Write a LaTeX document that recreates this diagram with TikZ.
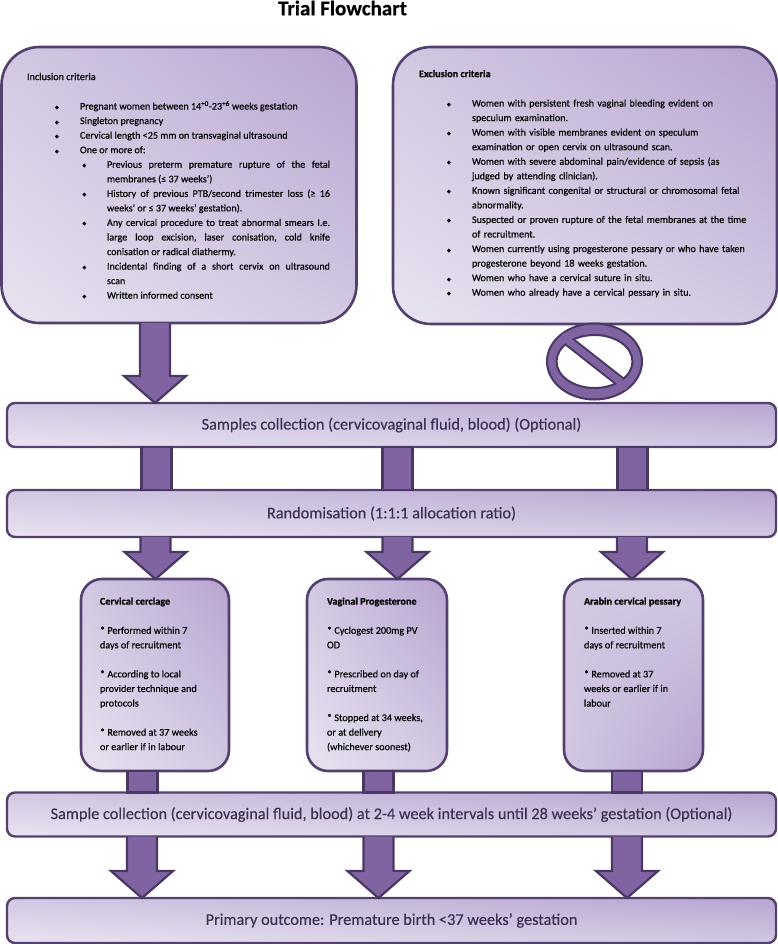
\documentclass[tikz,border=0pt]{standalone}
\usepackage{fontspec}
\setmainfont{Carlito}[FakeBold=0.35]
\newfontfamily\symfont{DejaVu Sans}
\usetikzlibrary{calc,shadings}
\definecolor{edgedark}{HTML}{54406F}
\definecolor{arrowedge}{HTML}{4A3763}
\definecolor{arrowfill}{HTML}{8064A2}
\definecolor{shlight}{HTML}{E8E3F1}
\definecolor{shmid}{HTML}{D2C8E2}
\definecolor{shdark}{HTML}{B7A4D0}
\definecolor{bandtext}{HTML}{403152}
\newcommand{\bul}{{\symfont\fontsize{5.5}{6}\selectfont ◆}}
\newenvironment{critlist}[3]{\begin{list}{\bul}{%
  \setlength\leftmargin{#1}\setlength\labelwidth{#2}\setlength\labelsep{#3}%
  \setlength\itemsep{0pt}\setlength\parsep{0pt}\setlength\topsep{0pt}%
  \setlength\partopsep{0pt}\setlength\itemindent{0pt}\setlength\rightmargin{0pt}%
  \setlength\parskip{0pt}}\hyphenpenalty=10000\exhyphenpenalty=10000\tolerance=9000\frenchspacing}{\end{list}}
\tikzset{
  panel/.style={draw=edgedark,line width=2.6pt,inner sep=0pt,outer sep=0pt,
    lower left=shlight,upper left=shmid,lower right=shmid,upper right=shdark},
  bigpanel/.style={panel,rounded corners=38pt},
  armpanel/.style={panel,rounded corners=21pt},
  band/.style={panel,line width=2.4pt,rounded corners=8pt,
    minimum width=769pt,font=\fontsize{16.3}{19}\selectfont,text=bandtext},
  blockarrow/.style={draw=arrowedge,line width=2.2pt,fill=arrowfill,line join=miter},
  ringline/.style={draw=arrowedge,line width=2pt},
  bodytext/.style={inner sep=0pt,outer sep=0pt,anchor=north west,align=left,
    font=\fontsize{10.2}{14.55}\selectfont,text=black},
  listtext/.style={bodytext,text width=#1,font=\fontsize{10.1}{14.55}\selectfont},
  headtext/.style={font=\bfseries\fontsize{21}{23}\selectfont,inner sep=0pt},
}
\newcommand{\headarrow}[3]{% from, to, centre x
  \coordinate (s) at (#1 -| #3,0);
  \coordinate (e) at (#2 -| #3,0);
  \draw[blockarrow] ($(s)+(-15,0)$) -- ($(e)+(-15,-27)$) -- ($(e)+(-31,-27)$) -- (e)
    -- ($(e)+(31,-27)$) -- ($(e)+(15,-27)$) -- ($(s)+(15,0)$);
}
\newcommand{\linkbar}[3]{% from, to, centre x
  \coordinate (s) at (#1 -| #3,0);
  \coordinate (e) at (#2 -| #3,0);
  \draw[blockarrow] ($(s)+(-15,0)$) rectangle ($(e)+(15,0)$);
}
\begin{document}
\begin{tikzpicture}[x=1pt,y=-1pt]
\useasboundingbox (0,0) rectangle (778,944);

\node[headtext] (title) at (342.5,8) {Trial Flowchart};

\node[bigpanel,minimum width=355pt,minimum height=276pt] (inc) at (179,185) {};
\node[bigpanel,minimum width=384pt,minimum height=277pt] (exc) at (585,185.5) {};
\node[band,minimum height=44pt] (samp) at (391.5,425) {Samples collection (cervicovaginal fluid, blood) (Optional)};
\node[band,minimum height=47pt] (rand) at (391.5,513.5) {Randomisation (1:1:1 allocation ratio)};
\node[armpanel,minimum width=148pt,minimum height=192pt] (cer) at (155,675) {};
\node[armpanel,minimum width=140pt,minimum height=192pt] (vag) at (377,675) {};
\node[armpanel,minimum width=139pt,minimum height=192pt,lower right=shdark,upper right=shmid,upper left=shmid,lower left=shmid] (ara) at (633.5,675) {};
\node[band,minimum height=44pt] (samp2) at (391.5,814.5) {Sample collection (cervicovaginal fluid, blood) at 2-4 week intervals until 28 weeks’ gestation (Optional)};
\node[band,minimum height=45pt] (prim) at (391.5,920.5) {Primary outcome: Premature birth <37 weeks’ gestation};

\headarrow{inc.south}{samp.north}{155}
\linkbar{samp.south}{rand.north}{156.5}
\linkbar{samp.south}{rand.north}{397.5}
\linkbar{samp.south}{rand.north}{632.5}
\headarrow{rand.south}{cer.north}{155.5}
\headarrow{rand.south}{vag.north}{397.5}
\headarrow{rand.south}{ara.north}{632}
\linkbar{cer.south}{samp2.north}{142.5}
\linkbar{vag.south}{samp2.north}{378.5}
\linkbar{ara.south}{samp2.north}{627}
\headarrow{samp2.south}{prim.north}{142}
\headarrow{samp2.south}{prim.north}{378.5}
\headarrow{samp2.south}{prim.north}{627}

% prohibition sign
\coordinate (nocentre) at (594.5,361.5);
\draw[ringline,fill=arrowfill] (nocentre) ellipse [x radius=47.5,y radius=38];
\draw[ringline,fill=white] (nocentre) ellipse [x radius=38,y radius=26.5];
\begin{scope}
  \clip (nocentre) ellipse [x radius=38,y radius=26.5];
  \draw[arrowedge,line width=11pt] ($(nocentre)+(-42,-33)$) -- ($(nocentre)+(42,33)$);
\end{scope}
\draw[arrowfill,line width=7pt] ($(nocentre)+(-33,-26)$) -- ($(nocentre)+(33,26)$);

% inclusion text
\node[bodytext] (inct) at (27,73) {Inclusion criteria};
\node[listtext=273pt,align=justify] (incl) at (57,95) {%
\begin{critlist}{23pt}{6pt}{21pt}
\item Pregnant women between 14\textsuperscript{+0}-23\textsuperscript{+6} weeks gestation
\item Singleton pregnancy
\item Cervical length <25 mm on transvaginal ultrasound
\item One or more of:
\begin{critlist}{27pt}{6pt}{20.5pt}
\item Previous preterm premature rupture of the fetal\linebreak membranes (≤ 37 weeks’)
\item History of previous PTB/second trimester loss (≥ 16\linebreak weeks’ or ≤ 37 weeks’ gestation).
\item Any cervical procedure to treat abnormal smears I.e.\linebreak large loop excision, laser conisation, cold knife\linebreak conisation or radical diathermy.
\item Incidental finding of a short cervix on ultrasound\linebreak scan
\item Written informed consent
\end{critlist}
\end{critlist}};

% exclusion text
\node[bodytext,font=\fontsize{10.2}{14.55}\selectfont\bfseries] (exct) at (419,70) {Exclusion criteria};
\node[listtext=310pt] (excl) at (447,92) {%
\begin{critlist}{25pt}{6pt}{21pt}
\item Women with persistent fresh vaginal bleeding evident on\\speculum examination.
\item Women with visible membranes evident on speculum\\examination or open cervix on ultrasound scan.
\item Women with severe abdominal pain/evidence of sepsis (as\\judged by attending clinician).
\item Known significant congenital or structural or chromosomal fetal\\abnormality.
\item Suspected or proven rupture of the fetal membranes at the time\\of recruitment.
\item Women currently using progesterone pessary or who have taken\\progesterone beyond 18 weeks gestation.
\item Women who have a cervical suture in situ.
\item Women who already have a cervical pessary in situ.
\end{critlist}};

% arm text
\node[bodytext] (cert) at (100,597.5) {\textbf{Cervical cerclage}\\[14.55pt]
* Performed within 7\\days of recruitment\\[14.55pt]
* According to local\\provider technique and\\protocols\\[14.55pt]
* Removed at 37 weeks\\or earlier if in labour};
\node[bodytext] (vagt) at (327,597.5) {\textbf{Vaginal Progesterone}\\[14.55pt]
* Cyclogest 200mg PV\\OD\\[14.55pt]
* Prescribed on day of\\recruitment\\[14.55pt]
* Stopped at 34 weeks,\\or at delivery\\(whichever soonest)};
\node[bodytext] (arat) at (584,597.5) {\textbf{Arabin cervical pessary}\\[14.55pt]
* Inserted within 7\\days of recruitment\\[14.55pt]
* Removed at 37\\weeks or earlier if in\\labour};
\end{tikzpicture}
\end{document}
